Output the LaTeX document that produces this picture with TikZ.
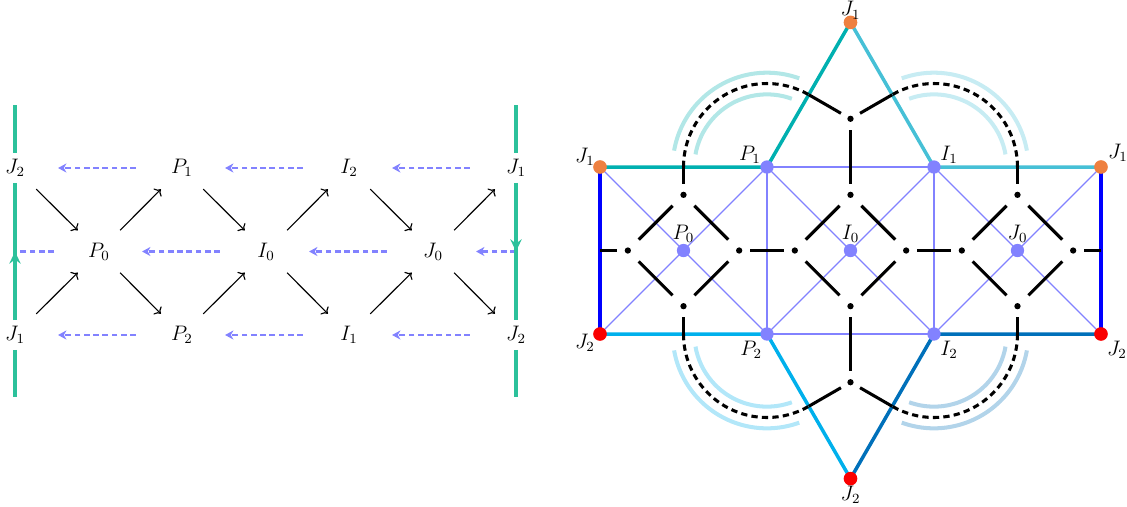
\documentclass[tikz,border=0pt]{standalone}
\usetikzlibrary{arrows.meta,decorations.markings}
\pgfdeclarelayer{bg}
\pgfsetlayers{bg,main}
\definecolor{grn}{RGB}{44,193,155}
\definecolor{pur}{RGB}{130,130,255}
\definecolor{tealc}{RGB}{0,176,176}
\definecolor{cyanc}{RGB}{70,192,214}
\definecolor{skyc}{RGB}{0,176,236}
\definecolor{dblue}{RGB}{0,112,186}
\definecolor{orng}{RGB}{238,128,64}
\definecolor{redc}{RGB}{250,0,0}
\begin{document}
\begin{tikzpicture}[x=0.5714pt,y=-0.5714pt,
  font=\fontsize{12}{14}\selectfont,
  gline/.style={draw=grn, color=grn, line width=2.1pt},
  midup/.style={postaction={decorate}, decoration={markings, mark=at position 0.5 with {\arrow[grn]{Stealth[length=7pt,width=6.5pt,inset=2.5pt]}}}},
  bdash/.style={draw=pur, line width=1.7pt, dash pattern=on 3.3pt off 2pt},
  btip/.style={-{Stealth[length=4.8pt,width=5.2pt,inset=1.5pt]}},
  barrow/.style={->, line width=0.65pt, shorten <=17.1pt, shorten >=17.1pt},
  thinl/.style={draw=pur, line width=0.7pt},
  bnd/.style={line width=2pt},
  side/.style={draw=blue, line width=2.6pt},
  lightarc/.style={draw=#1, line width=2.3pt},
  dualsolid/.style={draw=black, line width=1.75pt},
  dualdash/.style={draw=black, line width=1.75pt, dash pattern=on 3.6pt off 2.4pt},
  diagE/.style={dualsolid, shorten <=8.8pt, shorten >=8.8pt},
  strE/.style={dualsolid, shorten <=6.3pt, shorten >=6.3pt},
  pdot/.style={circle, fill=pur, inner sep=0pt, minimum size=7.6pt},
  odot/.style={circle, fill=orng, inner sep=0pt, minimum size=7.8pt},
  rdot/.style={circle, fill=redc, inner sep=0pt, minimum size=7.8pt},
  bdot/.style={circle, fill=black, inner sep=0pt, minimum size=3.6pt}
]
\useasboundingbox (0,0) rectangle (1127,506);

% ---------------- left figure ----------------
\node (J2a) at (15,168) {$J_2$};
\node (P1a) at (182,168) {$P_1$};
\node (I2a) at (349,168) {$I_2$};
\node (J1a) at (516,168) {$J_1$};
\node (P0a) at (99,251.5) {$P_0$};
\node (I0a) at (266,251.5) {$I_0$};
\node (J0a) at (433,251.5) {$J_0$};
\node (J1b) at (15,335) {$J_1$};
\node (P2a) at (182,335) {$P_2$};
\node (I1a) at (349,335) {$I_1$};
\node (J2b) at (516,335) {$J_2$};
\coordinate (Lt) at (15,105);
\coordinate (Lm) at (15,251.5);
\coordinate (Lb) at (15,397);
\coordinate (Rt) at (516,105);
\coordinate (Rm) at (516,251.5);
\coordinate (Rb) at (516,397);

\draw[bdash, btip, shorten <=26.3pt, shorten >=24.6pt] (P1a.center) -- (J2a.center);
\draw[bdash, btip, shorten <=26.3pt, shorten >=24.6pt] (I2a.center) -- (P1a.center);
\draw[bdash, btip, shorten <=26.3pt, shorten >=24.6pt] (J1a.center) -- (I2a.center);
\draw[bdash, btip, shorten <=26.3pt, shorten >=24.6pt] (I0a.center) -- (P0a.center);
\draw[bdash, btip, shorten <=26.3pt, shorten >=24.6pt] (J0a.center) -- (I0a.center);
\draw[bdash, btip, shorten <=26.3pt, shorten >=24.6pt] (P2a.center) -- (J1b.center);
\draw[bdash, btip, shorten <=26.3pt, shorten >=24.6pt] (I1a.center) -- (P2a.center);
\draw[bdash, btip, shorten <=26.3pt, shorten >=24.6pt] (J2b.center) -- (I1a.center);
\draw[bdash, shorten <=25.7pt] (P0a.center) -- (Lm);
\draw[bdash, btip, shorten >=24.6pt] (Rm) -- (J0a.center);

\draw[gline] (Lt) -- (J2a);
\draw[gline, midup] (J1b) -- (J2a);
\draw[gline] (J1b) -- (Lb);
\draw[gline] (Rt) -- (J1a);
\draw[gline, midup] (J1a) -- (J2b);
\draw[gline] (J2b) -- (Rb);

\draw[barrow] (J2a.center) -- (P0a.center);
\draw[barrow] (J1b.center) -- (P0a.center);
\draw[barrow] (P0a.center) -- (P1a.center);
\draw[barrow] (P0a.center) -- (P2a.center);
\draw[barrow] (P1a.center) -- (I0a.center);
\draw[barrow] (P2a.center) -- (I0a.center);
\draw[barrow] (I0a.center) -- (I2a.center);
\draw[barrow] (I0a.center) -- (I1a.center);
\draw[barrow] (I2a.center) -- (J0a.center);
\draw[barrow] (I1a.center) -- (J0a.center);
\draw[barrow] (J0a.center) -- (J1a.center);
\draw[barrow] (J0a.center) -- (J2b.center);

% ---------------- right figure ----------------
\begin{scope}[shift={(600,334)}, x=47.71pt, y=47.71pt]
\node[odot, label={[xshift=-8.6pt,yshift=5.7pt]center:$J_1$}] (J1L) at (0,2) {};
\node[pdot, label={[xshift=-9.7pt,yshift=6.9pt]center:$P_1$}] (P1) at (2,2) {};
\node[pdot, label={[xshift=8.6pt,yshift=6.9pt]center:$I_1$}] (I1) at (4,2) {};
\node[odot, label={[xshift=9.7pt,yshift=8pt]center:$J_1$}] (J1R) at (6,2) {};
\node[pdot, label={[yshift=9.7pt]center:$P_0$}] (P0) at (1,1) {};
\node[pdot, label={[yshift=9.7pt]center:$I_0$}] (I0) at (3,1) {};
\node[pdot, label={[yshift=9.7pt]center:$J_0$}] (J0) at (5,1) {};
\node[rdot, label={[xshift=-8.6pt,yshift=-5.1pt]center:$J_2$}] (J2L) at (0,0) {};
\node[pdot, label={[xshift=-9.1pt,yshift=-9.1pt]center:$P_2$}] (P2) at (2,0) {};
\node[pdot, label={[xshift=8.6pt,yshift=-9.1pt]center:$I_2$}] (I2) at (4,0) {};
\node[rdot, label={[xshift=9.1pt,yshift=-9.1pt]center:$J_2$}] (J2R) at (6,0) {};
\node[odot, label={[yshift=6.9pt]center:$J_1$}] (Jt) at (3,3.7321) {};
\node[rdot, label={[yshift=-9.1pt]center:$J_2$}] (Jb) at (3,-1.7321) {};

\node[bdot] (T1) at (1,1.6667) {};
\node[bdot] (B1) at (1,0.3333) {};
\node[bdot] (L1) at (0.3333,1) {};
\node[bdot] (R1) at (1.6667,1) {};
\node[bdot] (T2) at (3,1.6667) {};
\node[bdot] (B2) at (3,0.3333) {};
\node[bdot] (L2) at (2.3333,1) {};
\node[bdot] (R2) at (3.6667,1) {};
\node[bdot] (T3) at (5,1.6667) {};
\node[bdot] (B3) at (5,0.3333) {};
\node[bdot] (L3) at (4.3333,1) {};
\node[bdot] (R3) at (5.6667,1) {};
\node[bdot] (Tt) at (3,2.5774) {};
\node[bdot] (Bt) at (3,-0.5774) {};
\coordinate (M1) at (1,2);
\coordinate (M2) at (2.5,2.8660);
\coordinate (M3) at (5,2);
\coordinate (M4) at (3.5,2.8660);
\coordinate (M5) at (1,0);
\coordinate (M6) at (2.5,-0.8660);
\coordinate (M7) at (5,0);
\coordinate (M8) at (3.5,-0.8660);
\coordinate (EL) at (0,1);
\coordinate (ER) at (6,1);

\begin{pgfonlayer}{bg}
% thin triangulation
\draw[thinl] (P1.center) -- (I1.center);
\draw[thinl] (P2.center) -- (I2.center);
\draw[thinl] (P1.center) -- (P2.center);
\draw[thinl] (I1.center) -- (I2.center);
\draw[thinl] (J1L.center) -- (P2.center);
\draw[thinl] (J2L.center) -- (P1.center);
\draw[thinl] (P1.center) -- (I2.center);
\draw[thinl] (P2.center) -- (I1.center);
\draw[thinl] (I1.center) -- (J2R.center);
\draw[thinl] (I2.center) -- (J1R.center);
% coloured boundary
\draw[bnd, draw=tealc] (J1L.center) -- (P1.center) -- (Jt.center);
\draw[bnd, draw=cyanc] (J1R.center) -- (I1.center) -- (Jt.center);
\draw[bnd, draw=skyc] (J2L.center) -- (P2.center) -- (Jb.center);
\draw[bnd, draw=dblue] (J2R.center) -- (I2.center) -- (Jb.center);
\draw[side] (J1L.center) -- (J2L.center);
\draw[side] (J1R.center) -- (J2R.center);
% light arcs
\draw[lightarc=tealc!30] (P1.center) ++(170:41.5pt) arc[start angle=170, end angle=70, radius=41.5pt];
\draw[lightarc=tealc!30] (P1.center) ++(170:53.9pt) arc[start angle=170, end angle=70, radius=53.9pt];
\draw[lightarc=cyanc!30] (I1.center) ++(10:41.5pt) arc[start angle=10, end angle=110, radius=41.5pt];
\draw[lightarc=cyanc!30] (I1.center) ++(10:53.9pt) arc[start angle=10, end angle=110, radius=53.9pt];
\draw[lightarc=skyc!30] (P2.center) ++(190:41.5pt) arc[start angle=190, end angle=290, radius=41.5pt];
\draw[lightarc=skyc!30] (P2.center) ++(190:53.9pt) arc[start angle=190, end angle=290, radius=53.9pt];
\draw[lightarc=dblue!30] (I2.center) ++(-10:41.5pt) arc[start angle=-10, end angle=-110, radius=41.5pt];
\draw[lightarc=dblue!30] (I2.center) ++(-10:53.9pt) arc[start angle=-10, end angle=-110, radius=53.9pt];
% dual graph
\draw[diagE] (T1.center) -- (L1.center);
\draw[diagE] (T1.center) -- (R1.center);
\draw[diagE] (B1.center) -- (L1.center);
\draw[diagE] (B1.center) -- (R1.center);
\draw[diagE] (T2.center) -- (L2.center);
\draw[diagE] (T2.center) -- (R2.center);
\draw[diagE] (B2.center) -- (L2.center);
\draw[diagE] (B2.center) -- (R2.center);
\draw[diagE] (T3.center) -- (L3.center);
\draw[diagE] (T3.center) -- (R3.center);
\draw[diagE] (B3.center) -- (L3.center);
\draw[diagE] (B3.center) -- (R3.center);
\draw[strE] (R1.center) -- (L2.center);
\draw[strE] (R2.center) -- (L3.center);
\draw[strE] (T2.center) -- (Tt.center);
\draw[strE] (B2.center) -- (Bt.center);
\draw[dualsolid, shorten <=6.3pt] (L1.center) -- (EL);
\draw[dualsolid, shorten <=6.3pt] (R3.center) -- (ER);
\draw[dualsolid, shorten <=6.3pt] (T1.center) -- (M1);
\draw[dualdash] (M1) arc[start angle=180, end angle=60, radius=47.71pt];
\draw[dualsolid, shorten >=6.3pt] (M2) -- (Tt.center);
\draw[dualsolid, shorten <=6.3pt] (T3.center) -- (M3);
\draw[dualdash] (M3) arc[start angle=0, end angle=120, radius=47.71pt];
\draw[dualsolid, shorten >=6.3pt] (M4) -- (Tt.center);
\draw[dualsolid, shorten <=6.3pt] (B1.center) -- (M5);
\draw[dualdash] (M5) arc[start angle=180, end angle=300, radius=47.71pt];
\draw[dualsolid, shorten >=6.3pt] (M6) -- (Bt.center);
\draw[dualsolid, shorten <=6.3pt] (B3.center) -- (M7);
\draw[dualdash] (M7) arc[start angle=0, end angle=-120, radius=47.71pt];
\draw[dualsolid, shorten >=6.3pt] (M8) -- (Bt.center);
\end{pgfonlayer}
\end{scope}
\end{tikzpicture}
\end{document}
